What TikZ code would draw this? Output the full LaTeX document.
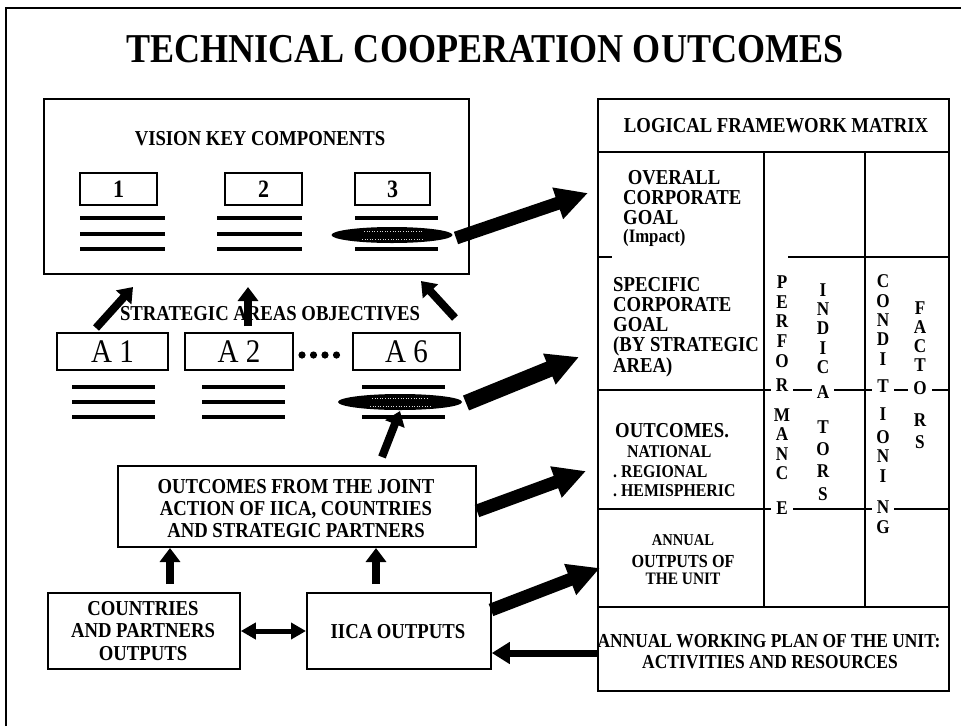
\documentclass[tikz,border=0pt]{standalone}
\usepackage{fontspec}
\setmainfont{Liberation Serif}[FakeStretch=0.88]
\usetikzlibrary{arrows.meta,shapes.geometric}
\newcommand\myfs[1]{\fontsize{#1}{#1}\selectfont}
\newcommand\myfsl[2]{\fontsize{#1}{#2}\selectfont}
\begin{document}
\begin{tikzpicture}[x=1pt,y=-1pt,
  box/.style={draw, line width=1.8pt, inner sep=0pt},
  rule/.style={line width=1.6pt},
  bar/.style={line width=4.4pt},
  txt/.style={inner sep=0pt, font=\bfseries\myfs{21.25}},
  vl/.style={fill=white, inner xsep=5pt, inner ysep=0pt, font=\bfseries\myfs{19.5}, text height=12.5pt, text depth=0pt},
  blob/.style={ellipse, fill=black, inner sep=0pt},
  faint/.style={white!70!gray, line width=0.6pt, dotted},
  bigarrow/.style={line width=13pt, -{Triangle[length=32pt,width=31pt]}},
  midarrow/.style={line width=8pt, -{Triangle[length=14pt,width=20pt]}},
]
\useasboundingbox (0,0) rectangle (961,726);
% outer frame
\draw[line width=2.4pt] (6,726) -- (6,8) -- (961,8);
% title
\node[inner sep=0pt, anchor=base, font=\bfseries\myfs{41}] (title) at (485,62) {TECHNICAL COOPERATION OUTCOMES};

% ---------- vision key components ----------
\node[box, anchor=north west, minimum width=425pt, minimum height=175pt] (vis) at (43,98) {};
\node[txt, anchor=base] (vist) at (260,145) {VISION KEY COMPONENTS};
\node[box, minimum width=77pt, minimum height=32pt, font=\bfseries\myfs{25}] (k1) at (118.5,189) {1};
\node[box, minimum width=77pt, minimum height=32pt, font=\bfseries\myfs{25}] (k2) at (263.5,189) {2};
\node[box, minimum width=75pt, minimum height=32pt, font=\bfseries\myfs{25}] (k3) at (392.5,189) {3};
\draw[bar] (80,218) -- (165,218) (80,234) -- (165,234) (80,249) -- (165,249);
\draw[bar] (217,218) -- (302,218) (217,234) -- (302,234) (217,249) -- (302,249);
\draw[bar] (355,218) -- (438,218) (355,249) -- (438,249);
\node[blob, minimum width=121pt, minimum height=16pt] (e1) at (392,235) {};
\draw[faint] (364,231) -- (422,231) (362,239) -- (424,239);

% ---------- strategic areas ----------
\node[txt, anchor=base] (strt) at (270,320) {STRATEGIC AREAS OBJECTIVES};
\node[box, minimum width=111pt, minimum height=37pt, font=\myfs{33}] (a1) at (112.5,351.5) {A 1};
\node[box, minimum width=108pt, minimum height=37pt, font=\myfs{33}] (a2) at (239,351.5) {A 2};
\node[box, minimum width=107pt, minimum height=37pt, font=\myfs{33}] (a6) at (406.5,351.5) {A 6};
\foreach \i in {302,313.5,325,336.5} \fill (\i,355) circle (3.6pt);
\draw[bar] (72,387) -- (155,387) (72,402) -- (155,402) (72,417) -- (155,417);
\draw[bar] (202,387) -- (285,387) (202,402) -- (285,402) (202,417) -- (285,417);
\draw[bar] (362,387) -- (445,387) (362,417) -- (445,417);
\node[blob, minimum width=124pt, minimum height=16pt] (e2) at (400,402) {};
\draw[faint] (372,398) -- (428,398) (370,406) -- (430,406);

% arrows up to the vision box
\coordinate (u1s) at (96,328);  \coordinate (u1e) at (133,287);
\coordinate (u2s) at (248,326); \coordinate (u2e) at (248,287);
\coordinate (u3s) at (455,318); \coordinate (u3e) at (421,281);
\draw[midarrow] (u1s) -- (u1e);
\draw[midarrow] (u2s) -- (u2e);
\draw[midarrow] (u3s) -- (u3e);

% ---------- outcomes / outputs ----------
\node[box, anchor=north west, minimum width=358pt, minimum height=81pt] (outc) at (117,465) {};
\node[txt, anchor=north, align=center, font=\bfseries\myfsl{21.25}{22}] (outct) at (296,479) {OUTCOMES FROM THE JOINT\\ACTION OF IICA, COUNTRIES\\AND STRATEGIC PARTNERS};
\node[box, anchor=north west, minimum width=192pt, minimum height=76pt] (ctry) at (47,592) {};
\node[txt, anchor=north, align=center, font=\bfseries\myfsl{21.25}{22.5}] (ctryt) at (143,601) {COUNTRIES\\AND PARTNERS\\OUTPUTS};
\node[box, anchor=north west, minimum width=184pt, minimum height=76pt] (iica) at (306,592) {};
\node[txt, anchor=base] (iicat) at (398,638) {IICA OUTPUTS};

\coordinate (o1s) at (382,457); \coordinate (o1e) at (400,411);
\draw[midarrow] (o1s) -- (o1e);
\coordinate (c1s) at (170,584); \coordinate (c1e) at (170,548);
\coordinate (c2s) at (376,584); \coordinate (c2e) at (376,548);
\draw[midarrow] (c1s) -- (c1e);
\draw[midarrow] (c2s) -- (c2e);
\draw[line width=5pt, {Triangle[length=15pt,width=16pt]}-{Triangle[length=15pt,width=16pt]}] (ctry.east |- 0,631) -- (iica.west |- 0,631);

% ---------- logical framework matrix ----------
\node[box, anchor=north west, minimum width=351pt, minimum height=592pt] (mat) at (597,98) {};
\draw[rule] (597,152) -- (948,152);
\draw[rule] (764,152) -- (764,607) (865,152) -- (865,607);
\draw[rule] (597,257) -- (612,257) (788,257) -- (948,257);
\draw[rule] (597,390) -- (948,390);
\draw[rule] (597,509) -- (948,509);
\draw[rule] (597,607) -- (948,607);
\node[txt, anchor=base] (lfm) at (776,132) {LOGICAL FRAMEWORK MATRIX};

\node[txt, anchor=north west, align=left, font=\bfseries\myfsl{21.25}{20}] (r1) at (623,170) {\ OVERALL\\CORPORATE\\GOAL};
\node[txt, anchor=base west, font=\bfseries\myfs{19}] (r1b) at (623,242) {(Impact)};
\node[txt, anchor=north west, align=left, font=\bfseries\myfsl{21.25}{20.2}] (r2) at (613,277) {SPECIFIC\\CORPORATE\\GOAL\\(BY STRATEGIC\\AREA)};
\node[txt, anchor=base west] (r3a) at (615,437) {OUTCOMES.};
\node[txt, anchor=base west, font=\bfseries\myfs{18}] (r3b) at (627,457) {NATIONAL};
\node[txt, anchor=base west, font=\bfseries\myfs{18}] (r3c) at (613,477) {.\ REGIONAL};
\node[txt, anchor=base west, font=\bfseries\myfs{18}] (r3d) at (613,496) {.\ HEMISPHERIC};
\node[txt, anchor=base, font=\bfseries\myfs{16.5}] (r4a) at (683,545) {ANNUAL};
\node[txt, anchor=base, font=\bfseries\myfs{18.4}] (r4b) at (683,567) {OUTPUTS OF};
\node[txt, anchor=base, font=\bfseries\myfs{17.5}] (r4c) at (683,584) {THE UNIT};
\node[txt, anchor=base, font=\bfseries\myfs{19.8}] (r5a) at (769,647) {ANNUAL WORKING PLAN OF THE UNIT:};
\node[txt, anchor=base, font=\bfseries\myfs{19.8}] (r5b) at (770,668) {ACTIVITIES AND RESOURCES};

% vertical words
\foreach \l/\y [count=\n] in {P/282,E/302,R/321,F/341,O/361,R/385,M/415,A/434,N/454,C/473,E/508}
  \node[vl] (perf\n) at (782,\y) {\l};
\foreach \l/\y [count=\n] in {I/290,N/309,D/328,I/348,C/367,A/392,T/427,O/449,R/471,S/494}
  \node[vl] (ind\n) at (823,\y) {\l};
\foreach \l/\y [count=\n] in {C/281,O/301,N/320,D/339,I/359,T/386,I/414,O/437,N/456,I/476,N/507,G/527}
  \node[vl] (cond\n) at (883,\y) {\l};
\foreach \l/\y [count=\n] in {F/308,A/327,C/346,T/365,O/388,R/420,S/442}
  \node[vl] (fact\n) at (920,\y) {\l};

% ---------- big arrows to the matrix ----------
\coordinate (b1s) at (456,238); \coordinate (b1e) at (588,193);
\coordinate (b2s) at (466,403); \coordinate (b2e) at (579,357);
\coordinate (b3s) at (477,511); \coordinate (b3e) at (586,471);
\coordinate (b4s) at (491,610); \coordinate (b4e) at (600,568);
\draw[bigarrow] (b1s) -- (b1e);
\draw[bigarrow, line width=16pt] (b2s) -- (b2e);
\draw[bigarrow] (b3s) -- (b3e);
\draw[bigarrow] (b4s) -- (b4e);
\draw[line width=7pt, -{Triangle[length=18pt,width=21pt]}] (mat.west |- 0,653) -- (iica.east |- 0,653);
\end{tikzpicture}
\end{document}
